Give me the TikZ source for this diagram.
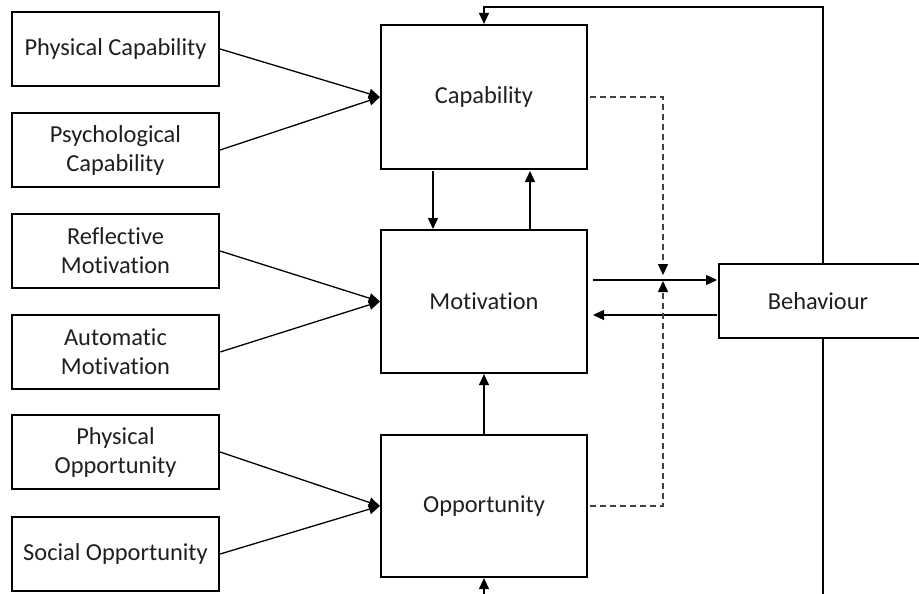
\documentclass[tikz,border=0pt]{standalone}
\usepackage{fontspec}
\setmainfont[Ligatures={NoCommon}]{Carlito}
\usetikzlibrary{arrows.meta}
\begin{document}
\begin{tikzpicture}[x=1pt,y=-1pt,
  every node/.style={font=\fontsize{24.4}{29}\selectfont, align=center, inner sep=0pt, text=black!88},
  srcbox/.style={draw, line width=2.2pt, minimum width=207pt, minimum height=74pt},
  midbox/.style={draw, line width=2.2pt, minimum width=206pt},
  link/.style={line width=1.3pt, -{Triangle[length=11pt,width=10pt]}},
  dlink/.style={line width=1.3pt, -{Triangle[length=11pt,width=10pt,color=black]},
    dash pattern=on 6pt off 4pt, draw=black!75}]
\useasboundingbox (0,0) rectangle (919,594);

% source components (left column)
\node[srcbox] (pcap) at (115.5,49)  {Physical Capability};
\node[srcbox] (ycap) at (115.5,150) {Psychological\\Capability};
\node[srcbox] (rmot) at (115.5,251) {Reflective\\Motivation};
\node[srcbox] (amot) at (115.5,352) {Automatic\\Motivation};
\node[srcbox] (popp) at (115.5,452) {Physical\\Opportunity};
\node[srcbox] (sopp) at (115.5,554) {Social Opportunity};

% COM components
\node[midbox, minimum height=144pt] (cap) at (484,97)    {Capability};
\node[midbox, minimum height=143pt] (mot) at (484,301.5) {Motivation};
\node[midbox, minimum height=142pt] (opp) at (484,506)   {Opportunity};

% behaviour, running off the right edge
\node[draw, line width=2.2pt, minimum width=202pt, minimum height=74pt] (beh) at (820,301) {\hspace*{-4pt}Behaviour};

% sources into components
\draw[link] (pcap.east) -- (cap.west);
\draw[link] (ycap.east) -- (cap.west);
\draw[link] (rmot.east) -- (mot.west);
\draw[link] (amot.east) -- (mot.west);
\draw[link] (popp.east) -- (opp.west);
\draw[link] (sopp.east) -- (opp.west);

% interactions between components
\coordinate (cd1) at (433,171);
\coordinate (cd2) at (433,229);
\coordinate (cu1) at (530,229);
\coordinate (cu2) at (530,171);
\draw[link] (cd1) -- (cd2);
\draw[link] (cu1) -- (cu2);
\draw[link] (opp.north) -- (mot.south);

% motivation <-> behaviour
\coordinate (mb1) at (593,280);
\coordinate (mb2) at (717,280);
\coordinate (bm1) at (717,315);
\coordinate (bm2) at (593,315);
\draw[link] (mb1) -- (mb2);
\draw[link] (bm1) -- (bm2);

% dashed influences of capability and opportunity
\coordinate (dc0) at (590,97);
\coordinate (dc1) at (663,97);
\coordinate (dc2) at (663,275);
\coordinate (do0) at (590,506);
\coordinate (do1) at (663,506);
\coordinate (do2) at (663,281);
\draw[dlink] (dc0) -- (dc1) -- (dc2);
\draw[dlink] (do0) -- (do1) -- (do2);

% feedback loop from behaviour
\coordinate (fb0) at (823,264);
\coordinate (fb1) at (823,7);
\coordinate (fb2) at (484,7);
\coordinate (fb3) at (823,338);
\coordinate (fb4) at (823,596);
\coordinate (fb5) at (484,596);
\draw[link] (fb0) -- (fb1) -- (fb2) -- (cap.north);
\draw[line width=1.3pt] (fb3) -- (fb4);
\draw[link] (fb5) -- (opp.south);
\end{tikzpicture}
\end{document}
